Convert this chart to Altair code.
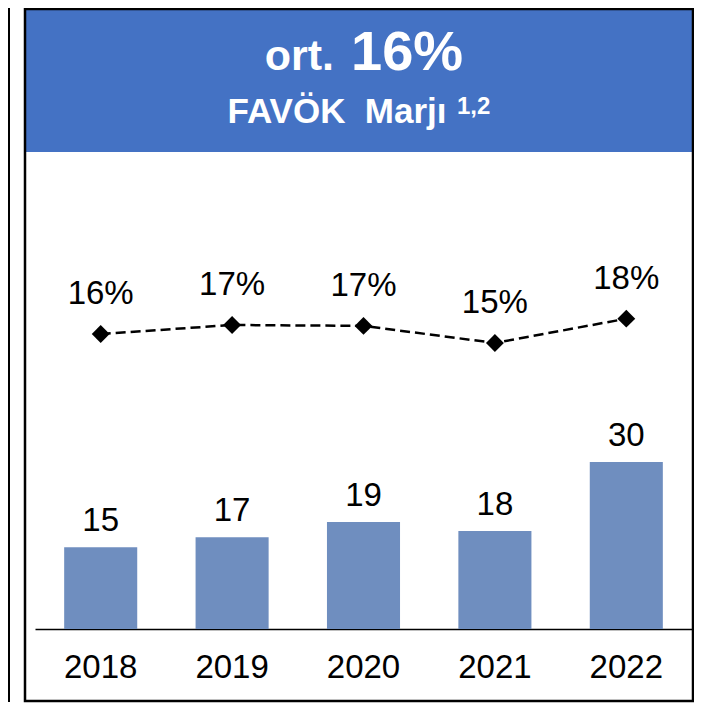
import altair as alt
import pandas as pd

# ---- data ----
years = ["2018", "2019", "2020", "2021", "2022"]
favok = [14.7, 16.5, 19.2, 17.6, 30.0]          # bar values
favok_labels = ["15", "17", "19", "18", "30"]
margin = [16.0, 17.0, 16.9, 15.0, 17.7]          # margin % (line)
margin_labels = ["16%", "17%", "17%", "15%", "18%"]

title_prefix = "ort."
title_value = "16%"
subtitle = "FAVÖK\u00a0 Marjı"
superscript = "1,2"

BLUE = "#4472C4"
BAR = "#6F8EBF"
FONT = "Liberation Sans"

df = pd.DataFrame({
    "year": years,
    "favok": favok,
    "favok_label": favok_labels,
    "margin": margin,
    "margin_label": margin_labels,
})
one = pd.DataFrame({"k": [0]})

W, H = 657, 621

xenc = alt.X(
    "year:N",
    sort=years,
    scale=alt.Scale(paddingInner=0.444, paddingOuter=0.222),
    axis=alt.Axis(
        title=None, ticks=False, tickSize=0, grid=False, labelAngle=0,
        domainColor="black", domainWidth=1.5,
        labelFont=FONT, labelFontSize=33, labelColor="black",
        labelPadding=48, labelBaseline="alphabetic",
    ),
)
ybar = alt.Y("favok:Q", scale=alt.Scale(domain=[0, 111.55]), axis=None)
yline = alt.Y("margin:Q", scale=alt.Scale(domain=[-16.78, 52.22], zero=False), axis=None)

base = alt.Chart(df)

bars = base.mark_bar(color=BAR).encode(x=xenc, y=ybar)
bar_text = base.mark_text(
    font=FONT, fontSize=33, color="black", baseline="alphabetic", dy=-16
).encode(x=alt.X("year:N", sort=years), y=ybar, text="favok_label:N")
bar_layer = alt.layer(bars, bar_text)

line = base.mark_line(color="black", strokeWidth=2.5, strokeDash=[10, 5]).encode(
    x=alt.X("year:N", sort=years), y=yline
)
pts = base.mark_point(shape="diamond", filled=True, color="black", size=320, opacity=1).encode(
    x=alt.X("year:N", sort=years), y=yline
)
line_text = base.mark_text(
    font=FONT, fontSize=33, color="black", baseline="alphabetic", dy=-30
).encode(x=alt.X("year:N", sort=years), y=yline, text="margin_label:N")
line_layer = alt.layer(line, pts, line_text)

# ---- decorations (panel frame, header band, title text) ----
dec = alt.Chart(one)
header = dec.mark_rect(color=BLUE).encode(
    x=alt.value(-9), x2=alt.value(657), y=alt.value(1), y2=alt.value(144)
)
frame = dec.mark_rect(fillOpacity=0, stroke="black", strokeWidth=2.5).encode(
    x=alt.value(-10), x2=alt.value(658), y=alt.value(1), y2=alt.value(693)
)
left_rule = dec.mark_rule(color="black", strokeWidth=2).encode(
    x=alt.value(-26), y=alt.value(0), y2=alt.value(694)
)
t1 = dec.mark_text(font=FONT, fontWeight="bold", fontSize=43, color="white",
                   align="right", baseline="alphabetic").encode(
    x=alt.value(299), y=alt.value(62), text=alt.value(title_prefix))
t2 = dec.mark_text(font=FONT, fontWeight="bold", fontSize=56, color="white",
                   align="left", baseline="alphabetic").encode(
    x=alt.value(316), y=alt.value(62), text=alt.value(title_value))
t3 = dec.mark_text(font=FONT, fontWeight="bold", fontSize=35, color="white",
                   align="center", baseline="alphabetic").encode(
    x=alt.value(302), y=alt.value(115), text=alt.value(subtitle))
t4 = dec.mark_text(font=FONT, fontWeight="bold", fontSize=24, color="white",
                   align="left", baseline="alphabetic").encode(
    x=alt.value(422), y=alt.value(106), text=alt.value(superscript))

chart = alt.layer(
    header, frame, left_rule, bar_layer, line_layer, t1, t2, t3, t4
).resolve_scale(y="independent").properties(
    width=W, height=H,
    autosize=alt.AutoSizeParams(type="none"),
    padding={"left": 27, "top": 0, "right": 2, "bottom": 74},
    background="white",
).configure_view(stroke=None)

chart.save("out.html", embed_options={"renderer": "svg", "actions": False})
